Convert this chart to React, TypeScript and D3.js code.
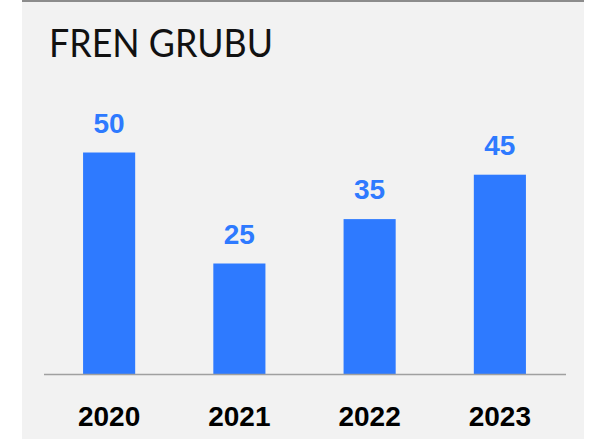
import { useRef, useEffect } from 'react'
import { select, scaleBand, scaleLinear } from 'd3'

const title = 'FREN GRUBU'
const years = ['2020', '2021', '2022', '2023']
const values = [50, 25, 35, 45]

const WIDTH = 611
const HEIGHT = 439
const BLUE = '#2e7aff'

const App = () => {
  const svgRef = useRef(null)

  useEffect(() => {
    const svg = select(svgRef.current)
    svgRef.current.innerHTML = ''

    // panel background
    svg.append('rect')
      .attr('x', 22).attr('y', 0)
      .attr('width', 562).attr('height', HEIGHT)
      .attr('fill', '#f2f2f2')
    svg.append('line')
      .attr('x1', 22).attr('x2', 584)
      .attr('y1', 1).attr('y2', 1)
      .attr('stroke', '#8c8c8c')
      .attr('stroke-width', 2)

    svg.append('text')
      .attr('x', 49).attr('y', 57)
      .attr('font-family', 'Lato, sans-serif')
      .attr('font-size', 38)
      .attr('textLength', 224)
      .attr('lengthAdjust', 'spacingAndGlyphs')
      .attr('fill', '#111')
      .text(title)

    const xScale = scaleBand()
      .domain(years)
      .range([44, 565])
      .paddingInner(0.6)
      .paddingOuter(0.3)

    const yScale = scaleLinear()
      .domain([0, 50])
      .range([374.5, 152.5])

    svg.selectAll('.bar')
      .data(values)
      .join('rect')
      .attr('class', 'bar')
      .attr('x', (d, i) => xScale(years[i]))
      .attr('y', d => yScale(d))
      .attr('width', xScale.bandwidth())
      .attr('height', d => yScale(0) - yScale(d))
      .attr('fill', BLUE)

    svg.selectAll('.value')
      .data(values)
      .join('text')
      .attr('class', 'value')
      .attr('x', (d, i) => xScale(years[i]) + xScale.bandwidth() / 2)
      .attr('y', d => yScale(d) - 20)
      .attr('text-anchor', 'middle')
      .attr('font-family', '"Liberation Sans", Arial, sans-serif')
      .attr('font-weight', 'bold')
      .attr('font-size', 28)
      .attr('fill', BLUE)
      .text(d => d)

    // x axis line
    svg.append('line')
      .attr('x1', 44).attr('x2', 566)
      .attr('y1', yScale(0)).attr('y2', yScale(0))
      .attr('stroke', '#a0a0a0')
      .attr('stroke-width', 1.5)

    svg.selectAll('.year')
      .data(years)
      .join('text')
      .attr('class', 'year')
      .attr('x', d => xScale(d) + xScale.bandwidth() / 2)
      .attr('y', 425.5)
      .attr('text-anchor', 'middle')
      .attr('font-family', '"Liberation Sans", Arial, sans-serif')
      .attr('font-weight', 'bold')
      .attr('font-size', 28)
      .attr('fill', '#000')
      .text(d => d)
  }, [])

  return (
    <svg
      ref={svgRef}
      width={WIDTH}
      height={HEIGHT}
      style={{ position: 'absolute', left: 0, top: 0, background: '#fff' }}
    />
  )
}

export default App
